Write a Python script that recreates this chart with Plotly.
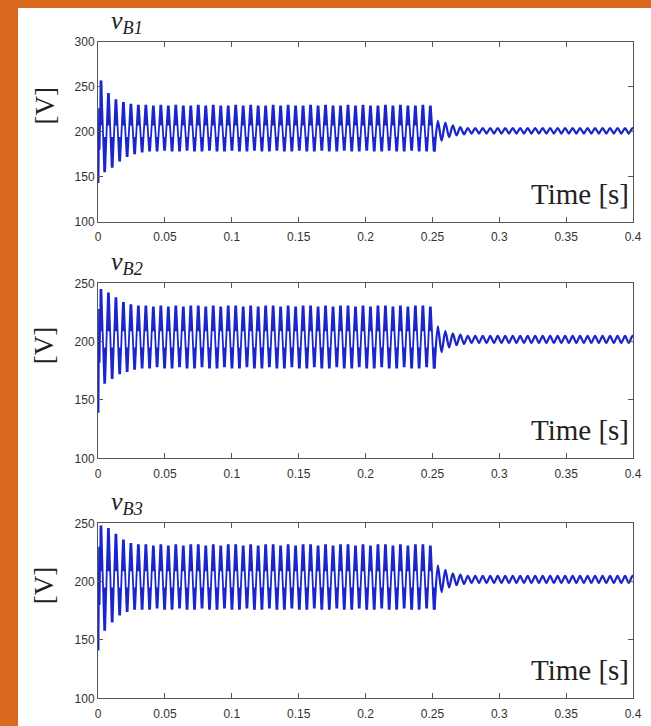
import numpy as np
import plotly.graph_objects as go

# ---------------------------------------------------------------------------
# Bus voltages v_B1, v_B2, v_B3 (V) versus time (s)
# The oscillation is stored as its successive extremes: one peak and one
# trough per cycle, first the start-up blob, then the sustained band up to
# 0.25 s, then the damped ripple after 0.25 s.  Around every extreme of the
# sustained band the trace rings back to a fixed level (the dense bars).
# ---------------------------------------------------------------------------
x_tickvals = [0, 0.05, 0.1, 0.15, 0.2, 0.25, 0.3, 0.35, 0.4]
x_ticktext = ["0", "0.05", "0.1", "0.15", "0.2", "0.25", "0.3", "0.35", "0.4"]

t_first_peak = 0.0022
t_last_peak = 0.2485
ring_dt = 0.00035

onset_t = [0.0, 0.0004, 0.0008, 0.0012, 0.0016]

# v_B1
b1_onset = [200, 143, 226, 180, 215]
b1_peaks = [257, 243, 236, 233, 231, 230, 230, 229, 230, 229,
            230, 229, 229, 230, 229, 230, 229, 229, 230, 229,
            230, 229, 229, 230, 229, 230, 229, 229, 230, 229,
            230, 229, 229, 230, 229, 230, 229, 229, 230, 229,
            230, 229, 229, 230, 229]
b1_troughs = [155, 160, 167, 172, 175, 177, 178, 178, 179, 178,
              178, 179, 178, 178, 179, 178, 178, 179, 178, 178,
              179, 178, 178, 179, 178, 178, 179, 178, 178, 179,
              178, 178, 179, 178, 178, 179, 178, 178, 179, 178,
              178, 179, 178, 178, 178]
b1_ring = (207, 194)          # ring-back level below peaks / above troughs
b1_tail_peaks = [212, 210, 207, 205, 204, 204, 204, 204, 204, 204,
                 204, 204, 204, 204, 204, 204, 204, 204, 204, 204,
                 204, 204, 204, 204, 204, 204, 204]
b1_tail_troughs = [190, 194, 196, 197, 198, 198, 198, 198, 198, 198,
                   198, 198, 198, 198, 198, 198, 198, 198, 198, 198,
                   198, 198, 198, 198, 198, 198, 198]

# v_B2
b2_onset = [200, 139, 228, 182, 215]
b2_peaks = [245, 242, 238, 234, 232, 231, 231, 230, 231, 230,
            231, 230, 231, 231, 230, 231, 230, 231, 231, 230,
            231, 230, 231, 231, 230, 231, 230, 231, 231, 230,
            231, 230, 231, 231, 230, 231, 230, 231, 231, 230,
            231, 230, 231, 231, 230]
b2_troughs = [164, 168, 172, 174, 176, 177, 177, 178, 177, 177,
              178, 177, 177, 178, 177, 177, 178, 177, 177, 178,
              177, 177, 178, 177, 177, 178, 177, 177, 178, 177,
              177, 178, 177, 177, 178, 177, 177, 178, 177, 177,
              178, 177, 177, 178, 177]
b2_ring = (209, 195)
b2_tail_peaks = [213, 209, 207, 206, 205, 205, 205, 205, 205, 205,
                 205, 205, 205, 205, 205, 205, 205, 205, 205, 205,
                 205, 205, 205, 205, 205, 205, 205]
b2_tail_troughs = [191, 195, 197, 198, 199, 199, 199, 199, 199, 199,
                   199, 199, 199, 199, 199, 199, 199, 199, 199, 199,
                   199, 199, 199, 199, 199, 199, 199]

# v_B3
b3_onset = [200, 141, 230, 180, 218]
b3_peaks = [248, 246, 241, 236, 233, 232, 232, 231, 232, 231,
            232, 231, 232, 232, 231, 232, 231, 232, 232, 231,
            232, 231, 232, 232, 231, 232, 231, 232, 232, 231,
            232, 231, 232, 232, 231, 232, 231, 232, 232, 231,
            232, 231, 232, 232, 231]
b3_troughs = [158, 165, 171, 174, 176, 176, 176, 177, 176, 176,
              177, 176, 176, 177, 176, 176, 177, 176, 176, 177,
              176, 176, 177, 176, 176, 177, 176, 176, 177, 176,
              176, 177, 176, 176, 177, 176, 176, 177, 176, 176,
              177, 176, 176, 177, 176]
b3_ring = (209, 195)
b3_tail_peaks = [214, 210, 207, 206, 205, 205, 205, 205, 205, 205,
                 205, 205, 205, 205, 205, 205, 205, 205, 205, 205,
                 205, 205, 205, 205, 205, 205, 205]
b3_tail_troughs = [191, 195, 197, 198, 199, 199, 199, 199, 199, 199,
                   199, 199, 199, 199, 199, 199, 199, 199, 199, 199,
                   199, 199, 199, 199, 199, 199, 199]


def waveform(onset_v, peaks, troughs, ring, tail_peaks, tail_troughs):
    """Return (band_t, band_v, tail_t, tail_v) built from the extremes."""
    n = len(peaks)
    period = (t_last_peak - t_first_peak) / (n - 1)
    ring_hi, ring_lo = ring
    t = list(onset_t)
    v = list(onset_v)
    t_band = t_first_peak + period * np.arange(n)
    for tp, p, q in zip(t_band, peaks, troughs):
        tq = tp + period / 2
        t += [tp - ring_dt, tp, tp + ring_dt, tq - ring_dt, tq, tq + ring_dt]
        v += [p, ring_hi, p, q, ring_lo, q]
    tail_t = [t[-1]]
    tail_v = [v[-1]]
    t_tail = t_band[-1] + period + period * np.arange(len(tail_peaks))
    for tp, p, q in zip(t_tail, tail_peaks, tail_troughs):
        tail_t += [tp, tp + period / 2]
        tail_v += [p, q]
    return t, v, tail_t, tail_v


series = [
    waveform(b1_onset, b1_peaks, b1_troughs, b1_ring, b1_tail_peaks, b1_tail_troughs),
    waveform(b2_onset, b2_peaks, b2_troughs, b2_ring, b2_tail_peaks, b2_tail_troughs),
    waveform(b3_onset, b3_peaks, b3_troughs, b3_ring, b3_tail_peaks, b3_tail_troughs),
]
names = ["B1", "B2", "B3"]
y_ranges = [[100, 300], [100, 250], [100, 250]]
y_ticks = [[100, 150, 200, 250, 300], [100, 150, 200, 250], [100, 150, 200, 250]]

W, H = 651, 726
# panel boxes in page pixels: (top, bottom)
boxes = [(41.7, 221.7), (283.3, 458.3), (523.3, 698.3)]
x_left, x_right = 98, 633

LINE = "#1a26c8"
AXIS = "#555555"
TICKFONT = dict(family="Liberation Sans, Arial", size=12, color="#333333")
SERIF = "Liberation Serif, Times New Roman"

fig = go.Figure()
layout = dict(
    width=W, height=H,
    margin=dict(l=0, r=0, t=0, b=0, autoexpand=False),
    paper_bgcolor="#d8691d",
    plot_bgcolor="white",
    showlegend=False,
    shapes=[dict(type="rect", xref="paper", yref="paper",
                 x0=18 / W, x1=1.02, y0=-0.02, y1=1 - 8 / H,
                 fillcolor="white", line=dict(width=0), layer="below")],
    annotations=[],
)

for i, ((bt, bv, tt, tv), name, yr, yt, (top, bot)) in enumerate(
        zip(series, names, y_ranges, y_ticks, boxes)):
    k = "" if i == 0 else str(i + 1)
    fig.add_trace(go.Scatter(
        x=bt, y=bv, mode="lines", xaxis="x" + k, yaxis="y" + k,
        line=dict(color=LINE, width=1.8), hoverinfo="skip",
    ))
    fig.add_trace(go.Scatter(
        x=tt, y=tv, mode="lines", xaxis="x" + k, yaxis="y" + k,
        line=dict(color=LINE, width=2.3, shape="spline", smoothing=0.8),
        hoverinfo="skip",
    ))
    layout["xaxis" + k] = dict(
        domain=[x_left / W, x_right / W], anchor="y" + k, automargin=False,
        range=[0, 0.4], tickvals=x_tickvals, ticktext=x_ticktext,
        ticks="inside", ticklen=5, tickcolor=AXIS, showline=True,
        linecolor=AXIS, linewidth=1, mirror="ticks", showgrid=False,
        zeroline=False, tickfont=TICKFONT, ticklabelstandoff=4,
    )
    layout["yaxis" + k] = dict(
        domain=[1 - bot / H, 1 - top / H], anchor="x" + k, automargin=False,
        range=yr, tickvals=yt, ticks="inside", ticklen=5, tickcolor=AXIS,
        showline=True, linecolor=AXIS, linewidth=1, mirror="ticks",
        showgrid=False, zeroline=False, tickfont=TICKFONT,
    )
    # panel heading v_Bn
    layout["annotations"].append(dict(
        text="<i>v</i><sub><i>%s</i></sub>" % name,
        xref="paper", yref="paper", x=109 / W, y=1 - (top - 2) / H,
        xanchor="left", yanchor="bottom", showarrow=False,
        font=dict(family=SERIF, size=26, color="#222222"),
    ))
    # y-axis unit
    layout["annotations"].append(dict(
        text="[V]", textangle=-90,
        xref="paper", yref="paper", x=44 / W, y=1 - (top + 0.36 * (bot - top)) / H,
        xanchor="center", yanchor="middle", showarrow=False,
        font=dict(family=SERIF, size=27, color="#222222"),
    ))
    # time label inside the panel
    layout["annotations"].append(dict(
        text="Time [s]",
        xref="paper", yref="paper", x=(x_right - 2) / W, y=1 - (bot - 10) / H,
        xanchor="right", yanchor="bottom", showarrow=False,
        font=dict(family=SERIF, size=29, color="#222222"),
    ))

fig.update_layout(**layout)
fig.write_html("out.html")
